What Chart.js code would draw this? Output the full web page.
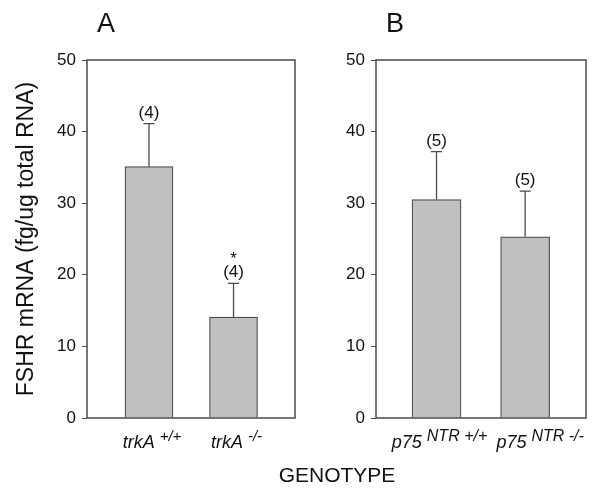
<!DOCTYPE html>
<html>
<head>
<meta charset="utf-8">
<script src="https://cdn.jsdelivr.net/npm/chart.js@4"></script>
<style>
body { margin:0; background:#fff; width:600px; height:493px; position:relative; overflow:hidden; font-family:"Liberation Sans", Arial, sans-serif; }
.box { position:absolute; top:0; width:300px; height:493px; }
#xtitle { position:absolute; top:464px; left:337px; transform:translateX(-50%); font-size:21px; line-height:1; color:#111; white-space:nowrap; }
</style>
</head>
<body>
<div class="box" style="left:0"><canvas id="chartA"></canvas></div>
<div class="box" style="left:300px"><canvas id="chartB"></canvas></div>
<div id="xtitle">GENOTYPE</div>
<script>
var FONT = '"Liberation Sans", Arial, sans-serif'

// panel A
var baseA = ['trkA', 'trkA']
var supA = ['+/+', '-/-']
var meansA = [35.1, 14.1]
var errA = [6.0, 4.7]
var nA = ['(4)', '(4)']
var starA = ['', '*']

// panel B
var baseB = ['p75', 'p75']
var supB = ['NTR +/+', 'NTR -/-']
var meansB = [30.5, 25.3]
var errB = [6.7, 6.4]
var nB = ['(5)', '(5)']
var starB = ['', '']

var yTitle = 'FSHR mRNA (fg/ug total RNA)'

var lineCol = '#4a4a4a'

var extras = {
    id: 'extras',
    afterDatasetsDraw: function(chart, args, opts) {
        var ctx = chart.ctx
        var a = chart.chartArea
        var xs = chart.scales.x, ys = chart.scales.y
        ctx.save()
        // frame
        ctx.strokeStyle = lineCol
        ctx.lineWidth = 1.5
        ctx.strokeRect(a.left, a.top, a.right - a.left, a.bottom - a.top)

        // error bars + n labels
        ctx.lineWidth = 1.3
        for (var i = 0; i < opts.means.length; i++) {
            var cx = xs.getPixelForValue(i + 1)
            var y0 = ys.getPixelForValue(opts.means[i])
            var y1 = ys.getPixelForValue(opts.means[i] + opts.err[i])
            ctx.beginPath()
            ctx.moveTo(cx, y0)
            ctx.lineTo(cx, y1)
            ctx.moveTo(cx - 5.5, y1)
            ctx.lineTo(cx + 5.5, y1)
            ctx.stroke()

            ctx.fillStyle = '#111'
            ctx.textAlign = 'center'
            ctx.textBaseline = 'alphabetic'
            ctx.font = '17px ' + FONT
            ctx.fillText(opts.n[i], cx, y1 - 6)
            if (opts.star[i]) {
                ctx.fillText(opts.star[i], cx, y1 - 19)
            }

            // category label, base + raised part
            ctx.textAlign = 'left'
            ctx.font = 'italic 18px ' + FONT
            var wb = ctx.measureText(opts.base[i] + ' ').width
            ctx.font = 'italic ' + opts.supSize + 'px ' + FONT
            var ws = ctx.measureText(opts.sup[i]).width
            var sx = cx - (wb + ws) / 2 + opts.shift[i]
            ctx.font = 'italic 18px ' + FONT
            ctx.fillText(opts.base[i], sx, a.bottom + 30)
            ctx.font = 'italic ' + opts.supSize + 'px ' + FONT
            ctx.fillText(opts.sup[i], sx + wb, a.bottom + 23)
        }

        // panel letter
        ctx.font = '27px ' + FONT
        ctx.textAlign = 'center'
        ctx.fillText(opts.letter, a.left + 19, 32)
        ctx.restore()
    }
}

function make_chart(el, means, xmin, xmax, thick, yWidth, padRight, showTitle, opts) {
    var pts = []
    for (var i = 0; i < means.length; i++) pts.push({x: i + 1, y: means[i]})
    return new Chart(el.getContext('2d'), {
        type: 'bar',
        data: {
            datasets: [{
                data: pts,
                backgroundColor: '#c0c0c0',
                borderColor: lineCol,
                borderWidth: 1.2,
                barThickness: thick
            }]
        },
        plugins: [extras],
        options: {
            responsive: true,
            maintainAspectRatio: false,
            animation: false,
            layout: { padding: { top: 60, right: padRight, left: 0, bottom: 0 } },
            scales: {
                x: {
                    type: 'linear',
                    offset: false,
                    min: xmin,
                    max: xmax,
                    ticks: { display: false },
                    grid: { display: false },
                    border: { display: false },
                    afterFit: function(s) { s.height = 75 }
                },
                y: {
                    min: 0,
                    max: 50,
                    ticks: { stepSize: 10, padding: 6, color: '#111', font: { family: FONT, size: 17 } },
                    grid: { drawOnChartArea: false, drawTicks: true, tickLength: 5, color: lineCol },
                    border: { display: false },
                    title: { display: showTitle, text: yTitle, color: '#111', font: { family: FONT, size: 23 }, padding: { top: 13, bottom: 0 } },
                    afterFit: function(s) { s.width = yWidth }
                }
            },
            plugins: {
                legend: { display: false },
                tooltip: { enabled: false },
                extras: opts
            }
        }
    })
}

make_chart(document.getElementById('chartA'), meansA, 0.267, 2.727, 48, 87, 5, true,
    { means: meansA, err: errA, n: nA, star: starA, base: baseA, sup: supA, supSize: 15, shift: [3, 3], letter: 'A' })
make_chart(document.getElementById('chartB'), meansB, 0.317, 2.687, 49, 76, 14, false,
    { means: meansB, err: errB, n: nB, star: starB, base: baseB, sup: supB, supSize: 16, shift: [3, 15], letter: 'B' })
</script>
</body>
</html>
